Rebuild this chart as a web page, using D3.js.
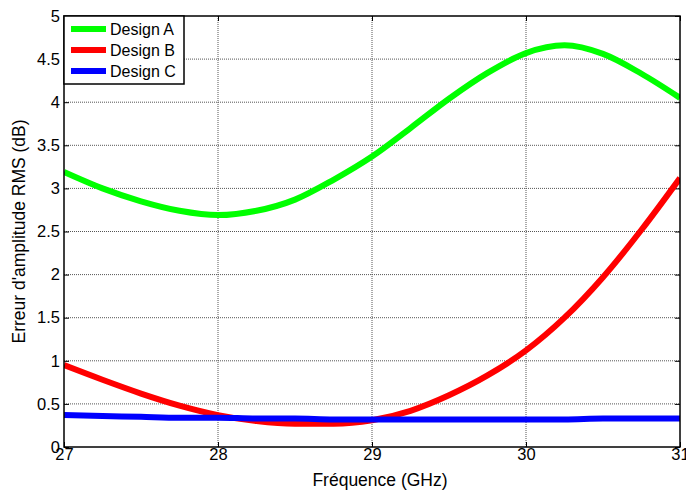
<!DOCTYPE html>
<html><head><meta charset="utf-8">
<script src="https://cdn.jsdelivr.net/npm/d3@7"></script>
<style>body{margin:0;background:#fff}svg{display:block}text{font-family:"Liberation Sans",Arial,sans-serif;fill:#000}</style>
</head><body>
<svg id="c" width="686" height="491"></svg>
<script>
const freq = [27, 27.25, 27.5, 27.75, 28, 28.25, 28.5, 28.75, 29, 29.25, 29.5, 29.75, 30, 30.25, 30.5, 30.75, 31];
const designA = [3.19, 3.0, 2.85, 2.74, 2.69, 2.74, 2.87, 3.1, 3.37, 3.7, 4.04, 4.34, 4.57, 4.66, 4.56, 4.33, 4.05];
const designB = [0.95, 0.78, 0.62, 0.48, 0.37, 0.3, 0.27, 0.27, 0.31, 0.42, 0.6, 0.83, 1.12, 1.5, 1.97, 2.52, 3.12];
const designC = [0.37, 0.36, 0.35, 0.34, 0.34, 0.33, 0.33, 0.32, 0.32, 0.32, 0.32, 0.32, 0.32, 0.32, 0.33, 0.33, 0.33];
const seriesNames = ["Design A", "Design B", "Design C"];
const seriesColors = ["#00ff00", "#ff0000", "#0000ff"];
const xTicks = [27, 28, 29, 30, 31];
const yTicks = [0, 0.5, 1, 1.5, 2, 2.5, 3, 3.5, 4, 4.5, 5];

const svg = d3.select("#c");
const L = 64, R = 680, T = 16, B = 447;
const x = d3.scaleLinear().domain([27, 31]).range([L, R]);
const y = d3.scaleLinear().domain([0, 5]).range([B, T]);

// grid
const g = svg.append("g");
g.selectAll(".vx").data(xTicks.slice(1, -1)).join("line")
  .attr("x1", d => x(d)).attr("x2", d => x(d)).attr("y1", T).attr("y2", B)
  .attr("stroke", "#555").attr("stroke-width", 1).attr("stroke-dasharray", "1,1");
g.selectAll(".hy").data(yTicks.slice(1, -1)).join("line")
  .attr("x1", L).attr("x2", R).attr("y1", d => y(d)).attr("y2", d => y(d))
  .attr("stroke", "#555").attr("stroke-width", 1).attr("stroke-dasharray", "1,1");

// axes
const fmt = d => String(d);
const xAx = svg.append("g").attr("transform", `translate(0,${B})`)
  .call(d3.axisBottom(x).tickValues(xTicks).tickFormat(fmt).tickSizeInner(-5).tickSizeOuter(0).tickPadding(4));
const yAx = svg.append("g").attr("transform", `translate(${L},0)`)
  .call(d3.axisLeft(y).tickValues(yTicks).tickFormat(fmt).tickSizeInner(-5).tickSizeOuter(0).tickPadding(4));
svg.append("g").attr("transform", `translate(0,${T})`)
  .call(d3.axisTop(x).tickValues(xTicks).tickFormat("").tickSizeInner(-5).tickSizeOuter(0));
svg.append("g").attr("transform", `translate(${R},0)`)
  .call(d3.axisRight(y).tickValues(yTicks).tickFormat("").tickSizeInner(-5).tickSizeOuter(0));
svg.selectAll(".domain").remove();
svg.selectAll(".tick line").attr("stroke", "#000");
svg.selectAll(".tick text").attr("font-size", 16.5).style("font-family", '"Liberation Sans",Arial,sans-serif');
xAx.selectAll(".tick text").attr("dy", "0.55em");

// lines
const data = [designA, designB, designC];
const line = d3.line().x((d, i) => x(freq[i])).y(d => y(d)).curve(d3.curveMonotoneX);
svg.append("clipPath").attr("id", "cp").append("rect").attr("x", L).attr("y", T).attr("width", R - L).attr("height", B - T);
svg.append("g").attr("clip-path", "url(#cp)").selectAll("path").data(data).join("path")
  .attr("d", line).attr("fill", "none").attr("stroke", (d, i) => seriesColors[i])
  .attr("stroke-width", 6).attr("stroke-linejoin", "round");

// frame
svg.append("rect").attr("x", L).attr("y", T).attr("width", R - L).attr("height", B - T)
  .attr("fill", "none").attr("stroke", "#000").attr("stroke-width", 1.5);

// legend
const lg = svg.append("g");
lg.append("rect").attr("x", L).attr("y", T).attr("width", 120).attr("height", 68)
  .attr("fill", "#fff").attr("stroke", "#000").attr("stroke-width", 1.5);
seriesNames.forEach((n, i) => {
  const yy = T + 13 + i * 21;
  lg.append("line").attr("x1", 71).attr("x2", 106).attr("y1", yy).attr("y2", yy)
    .attr("stroke", seriesColors[i]).attr("stroke-width", 6);
  lg.append("text").attr("x", 110).attr("y", yy).attr("dy", "0.36em").attr("font-size", 16).text(n);
});

// labels
svg.append("text").attr("x", (L + R) / 2 + 8).attr("y", 486).attr("text-anchor", "middle")
  .attr("font-size", 17.5).text("Fréquence (GHz)");
svg.append("text").attr("transform", `translate(25,${(T + B) / 2}) rotate(-90)`).attr("text-anchor", "middle")
  .attr("font-size", 17.5).text("Erreur d'amplitude RMS (dB)");
</script>
</body></html>
